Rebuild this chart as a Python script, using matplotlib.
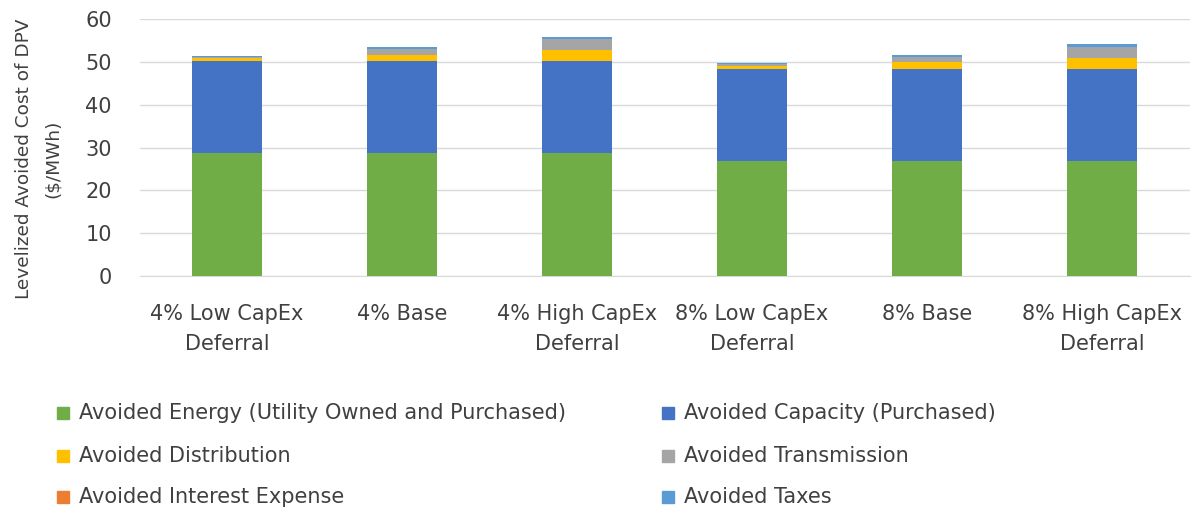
import matplotlib
matplotlib.use("Agg")
import matplotlib.pyplot as plt
from matplotlib.patches import Rectangle
import numpy as np

categories = ["4% Low CapEx\nDeferral", "4% Base", "4% High CapEx\nDeferral",
              "8% Low CapEx\nDeferral", "8% Base", "8% High CapEx\nDeferral"]
series_names = ["Avoided Energy (Utility Owned and Purchased)", "Avoided Capacity (Purchased)",
                "Avoided Distribution", "Avoided Transmission",
                "Avoided Interest Expense", "Avoided Taxes"]
energy = [28.6, 28.6, 28.6, 26.8, 26.8, 26.8]
capacity = [21.6, 21.6, 21.6, 21.6, 21.6, 21.6]
distribution = [0.6, 1.4, 2.6, 0.7, 1.5, 2.5]
transmission = [0.3, 1.5, 2.6, 0.3, 1.2, 2.6]
interest = [0.0, 0.0, 0.0, 0.0, 0.0, 0.0]
taxes = [0.35, 0.3, 0.3, 0.4, 0.5, 0.6]
colors = ["#70AD47", "#4472C4", "#FFC000", "#A5A5A5", "#ED7D31", "#5B9BD5"]
yticks = [0, 10, 20, 30, 40, 50, 60]

plt.rcParams['font.family'] = ['DejaVu Sans']
txt = "#404040"
fs = 15

fig = plt.figure(figsize=(11.97, 5.12), dpi=100)
ax = fig.add_axes([139.5/1197, 1-276/512, 1050/1197, 257/512])

x = np.arange(len(categories))
bottom = np.zeros(len(categories))
for vals, col, name in zip([energy, capacity, distribution, transmission, interest, taxes], colors, series_names):
    ax.bar(x, vals, 0.4, bottom=bottom, color=col, label=name, zorder=3)
    bottom += np.array(vals)

ax.set_xlim(-0.5, len(categories)-0.5)
ax.set_ylim(0, 60)
ax.set_yticks(yticks)
ax.grid(axis='y', color='#D9D9D9', linewidth=1, zorder=0)
for s in ['top', 'right', 'left']:
    ax.spines[s].set_visible(False)
ax.spines['bottom'].set_color('#D9D9D9')
ax.tick_params(axis='both', length=0, labelsize=fs, colors=txt)
ax.tick_params(axis='y', pad=20)
ax.tick_params(axis='x', pad=20)
ax.set_xticks(x)
ax.set_xticklabels(categories, linespacing=1.65)
ax.set_ylabel("Levelized Avoided Cost of DPV\n($/MWh)", fontsize=13.3, color=txt, linespacing=1.75)
ax.yaxis.set_label_coords((62-139.5)/1050, 0.455)

# legend (manual, two columns, row-wise)
entries_pos = [(57, 413), (662, 413), (57, 456), (662, 456), (57, 497), (662, 497)]
for (px, py), col, name in zip(entries_pos, colors, series_names):
    fig.patches.append(Rectangle((px/1197, 1-(py+6)/512), 12/1197, 12/512,
                                 transform=fig.transFigure, color=col, figure=fig))
    fig.text((px+22)/1197, 1-py/512, name, fontsize=fs, color=txt, va='center', ha='left')

fig.savefig("out.png", dpi=100)
